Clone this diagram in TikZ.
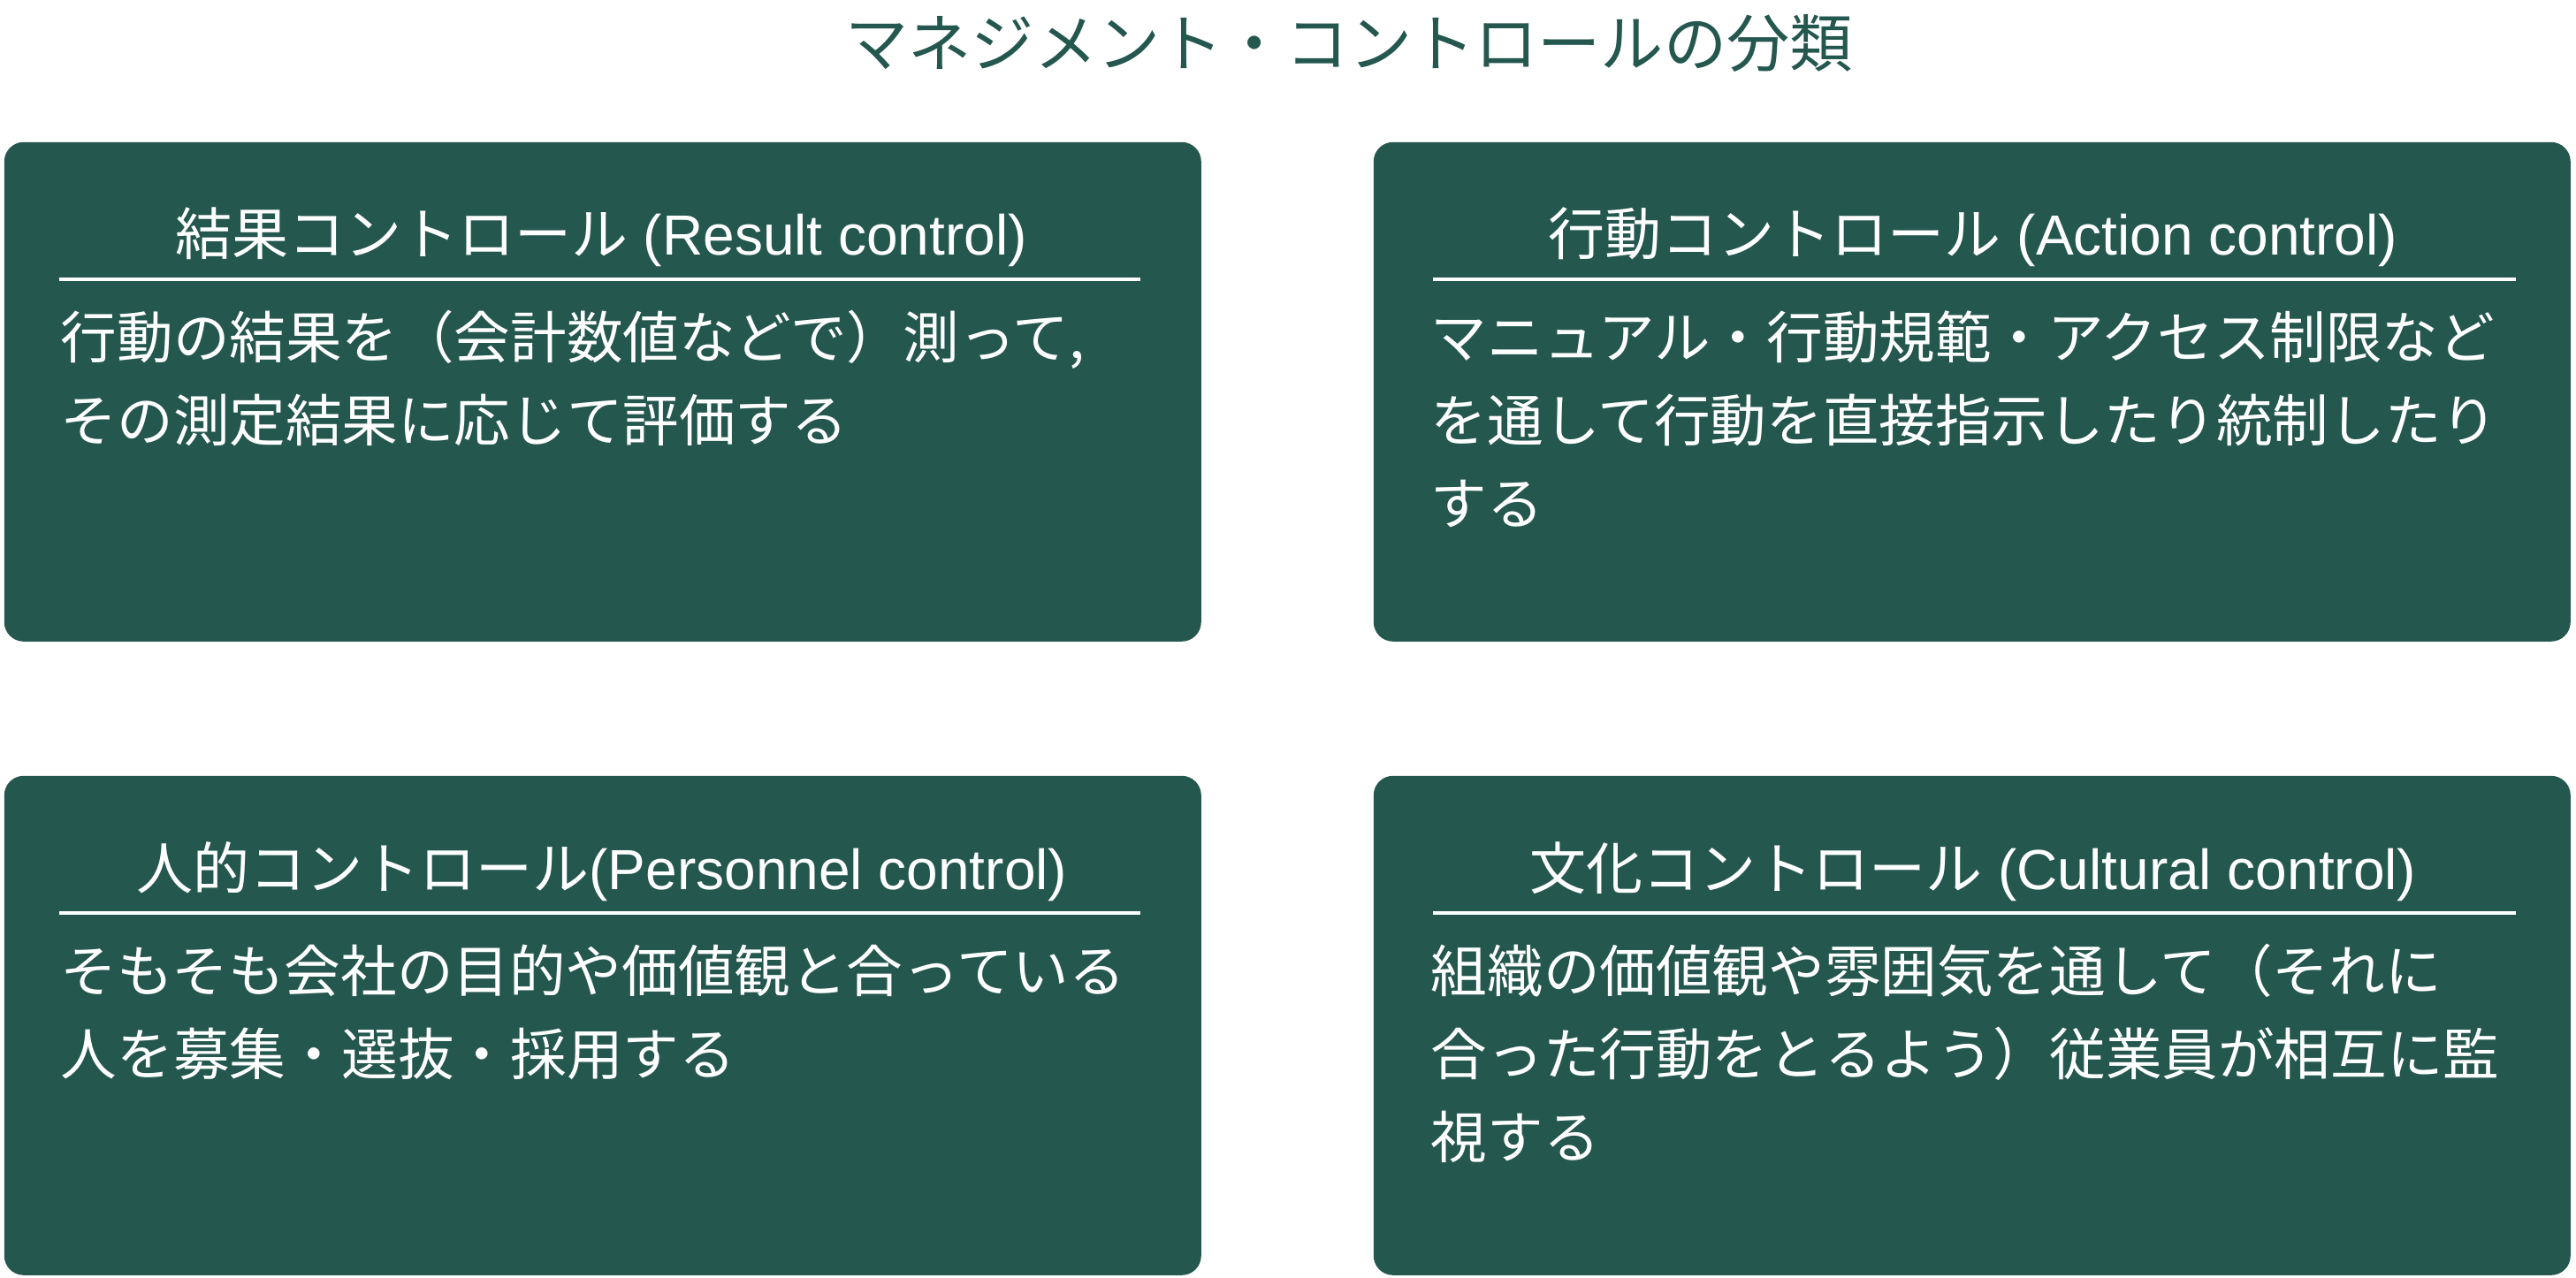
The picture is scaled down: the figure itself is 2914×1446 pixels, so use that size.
\documentclass[tikz,border=0pt]{standalone}
\usepackage{fontspec}
\setmainfont{Noto Sans CJK JP}
\newfontfamily\latinfont{Liberation Sans}
\definecolor{boardgreen}{RGB}{36,87,78}

\begin{document}
\begin{tikzpicture}[x=0.25pt,y=-0.25pt,
    panel/.style={fill=boardgreen,rounded corners=5.5pt,minimum width=338.5pt,minimum height=141.25pt,inner sep=0pt,anchor=north west},
    headline/.style={text=white,font=\fontsize{16}{20}\selectfont,anchor=base,inner sep=0pt},
    bodytext/.style={text=white,font=\fontsize{15.9}{23.5}\selectfont,align=left,anchor=base west,inner sep=0pt},
    rule/.style={draw=white,line width=1pt}]
    \useasboundingbox (0,0) rectangle (2914,1446);% fix the margins
    \node[text=boardgreen,font=\fontsize{17.8}{20}\selectfont,anchor=base,inner sep=0pt] (title) at (1526,75) {マネジメント・コントロールの分類};% title
    % Result control
    \node[panel] (result) at (4,160) {};% draw the box
    \node[headline] (resulthead) at (680,288) {結果コントロール{\latinfont\ (Result control)}};% heading
    \draw[rule] (67,316) -- (1290,316);% draw the rule
    \node[bodytext] (resulttext) at (68,499) {行動の結果を（会計数値などで）測って,\\その測定結果に応じて評価する};% base = last line
    % Action control
    \node[panel] (action) at (1553,160) {};% draw the box
    \node[headline] (actionhead) at (2232,288) {行動コントロール{\latinfont\ (Action control)}};% heading
    \draw[rule] (1621,316) -- (2846,316);% draw the rule
    \node[bodytext] (actiontext) at (1618,593) {マニュアル・行動規範・アクセス制限など\\を通して行動を直接指示したり統制したり\\する};% base = last line
    % Personnel control
    \node[panel] (personnel) at (4,877) {};% draw the box
    \node[headline] (personnelhead) at (681,1006) {人的コントロール{\latinfont (Personnel control)}};% heading
    \draw[rule] (67,1033) -- (1290,1033);% draw the rule
    \node[bodytext] (personneltext) at (68,1216) {そもそも会社の目的や価値観と合っている\\人を募集・選抜・採用する};% base = last line
    % Cultural control
    \node[panel] (cultural) at (1553,877) {};% draw the box
    \node[headline] (culturalhead) at (2232,1006) {文化コントロール{\latinfont\ (Cultural control)}};% heading
    \draw[rule] (1621,1033) -- (2846,1033);% draw the rule
    \node[bodytext] (culturaltext) at (1618,1310) {組織の価値観や雰囲気を通して（それに\\合った行動をとるよう）従業員が相互に監\\視する};% base = last line
\end{tikzpicture}
\end{document}
